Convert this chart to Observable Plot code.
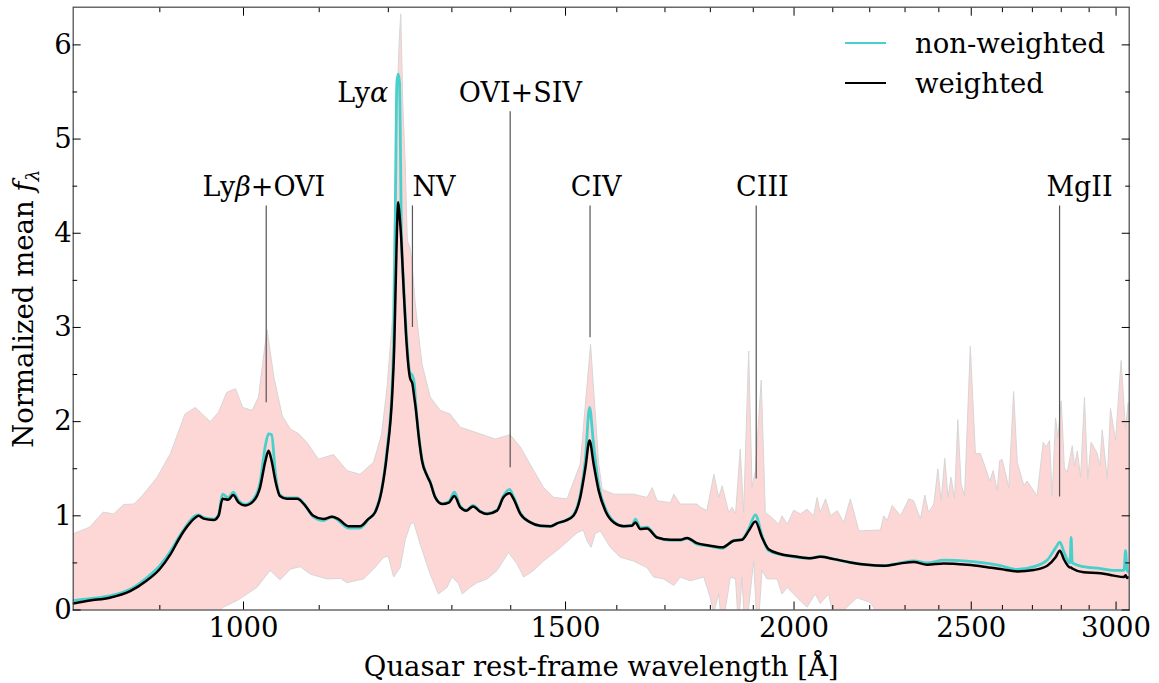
<!DOCTYPE html>
<html><head><meta charset="utf-8">
<script src="https://cdn.jsdelivr.net/npm/d3@7"></script>
<script src="https://cdn.jsdelivr.net/npm/@observablehq/plot@0.6"></script>
<style>
html,body{margin:0;padding:0;background:#fff;}
#wrap{position:relative;width:1159px;height:683px;font-family:"DejaVu Serif",serif;}
#legend{position:absolute;left:845px;top:23px;font-size:27.5px;color:#000;font-family:"DejaVu Serif",serif;}
.row{display:flex;align-items:center;height:40px;white-space:nowrap;}
.sw{width:41px;height:0;border-top:2.5px solid;margin-right:29px;}
</style></head><body><div id="wrap"><div id="legend"></div></div>
<script>
// ---- data ----
const wavelength = [807,824,845,867,885,900,912,923,931,941,
945,951,963,969,974,981,987,994,1002,1013,
1021,1028,1032,1036,1041,1047,1056,1070,1079,1092,
1106,1118,1127,1141,1158,1170,1180,1190,1198,1206,
1209,1211,1213,1215,1217,1220,1223,1227,1233,1237,
1240,1242,1247,1252,1260,1265,1273,1284,1295,1304,
1314,1324,1335,1347,1359,1376,1387,1398,1405,1417,
1435,1453,1472,1484,1500,1515,1528,1538,1546,1554,
1564,1577,1594,1614,1631,1638,1648,1662,1683,1712,
1733,1748,1770,1796,1827,1854,1873,1889,1905,1921,
1937,1966,2008,2042,2067,2103,2147,2193,2239,2287,
2325,2365,2415,2487,2540,2594,2649,2705,2751,2780,
2795,2809,2826,2831,2835,2839,2880,2942,2991,3030,
3036,3042,3050];
const weighted = [0.07,0.10,0.13,0.20,0.31,0.435,0.59,0.77,0.88,0.98,
1.00,0.97,0.955,1.00,1.18,1.17,1.22,1.14,1.11,1.16,
1.30,1.585,1.69,1.585,1.37,1.21,1.18,1.18,1.125,1.00,
0.965,0.99,0.965,0.89,0.89,0.965,1.035,1.27,1.66,2.3,
2.8,3.4,4.0,4.33,4.2,3.9,3.46,2.93,2.47,2.40,
2.25,2.15,1.83,1.585,1.425,1.355,1.195,1.125,1.14,1.21,
1.09,1.055,1.10,1.045,1.02,1.055,1.195,1.24,1.18,1.02,
0.93,0.895,0.89,0.92,0.95,1.0,1.195,1.51,1.80,1.55,
1.265,1.055,0.93,0.89,0.895,0.93,0.86,0.865,0.77,0.745,
0.745,0.765,0.71,0.685,0.665,0.735,0.745,0.84,0.94,0.77,
0.645,0.595,0.565,0.55,0.565,0.54,0.505,0.48,0.47,0.495,
0.51,0.48,0.495,0.48,0.46,0.435,0.41,0.425,0.47,0.56,
0.63,0.54,0.46,0.45,0.45,0.44,0.40,0.39,0.365,0.35,
0.37,0.34,0.35];
const nonWeighted = [0.10,0.12,0.15,0.22,0.34,0.47,0.62,0.79,0.90,1.00,
1.01,0.98,0.965,1.01,1.23,1.19,1.25,1.16,1.12,1.18,
1.35,1.75,1.87,1.86,1.45,1.22,1.19,1.19,1.13,0.99,
0.95,0.99,0.95,0.87,0.87,0.96,1.04,1.28,1.70,2.4,
3.2,4.5,5.6,5.69,5.6,4.0,3.5,3.0,2.52,2.49,
2.40,2.2,1.85,1.6,1.43,1.36,1.20,1.13,1.15,1.25,
1.10,1.06,1.11,1.05,1.025,1.06,1.21,1.28,1.20,1.03,
0.93,0.89,0.885,0.92,0.95,1.01,1.22,1.6,2.15,1.75,
1.32,1.08,0.94,0.89,0.90,0.965,0.87,0.88,0.77,0.74,
0.74,0.76,0.70,0.68,0.655,0.74,0.75,0.86,1.01,0.79,
0.63,0.59,0.56,0.55,0.57,0.54,0.505,0.48,0.47,0.50,
0.52,0.50,0.53,0.52,0.50,0.47,0.43,0.46,0.53,0.66,
0.72,0.62,0.51,0.50,0.77,0.50,0.46,0.44,0.42,0.42,
0.63,0.42,0.40];

const bandHiWave = [807,824,838,849,860,871,880,897,912,929,
941,959,969,979,990,999,1011,1019,1030,1039,
1050,1061,1072,1083,1099,1120,1139,1158,1178,1190,
1198,1206,1213,1217,1219,1222,1226,1229,1233,1236,
1241,1247,1252,1265,1281,1297,1314,1347,1373,1399,
1417,1441,1459,1478,1503,1528,1548,1564,1571,1594,
1634,1662,1673,1683,1712,1719,1733,1770,1778,1792,
1808,1819,1827,1842,1850,1858,1869,1877,1889,1897,
1905,1919,1929,1945,1962,1970,1983,1999,2016,2033,
2050,2059,2067,2081,2094,2112,2129,2147,2170,2230,
2239,2249,2263,2287,2311,2325,2345,2358,2369,2385,
2397,2407,2418,2428,2437,2448,2458,2468,2479,2497,
2513,2529,2545,2559,2570,2583,2591,2599,2621,2637,
2649,2671,2682,2716,2737,2748,2759,2768,2780,2788,
2800,2811,2821,2839,2847,2857,2869,2883,2895,2907,
2929,2939,2948,2967,2979,2998,3019,3036,3046,3050];
const bandHi = [0.81,0.88,1.04,1.02,1.12,1.125,1.21,1.41,1.66,2.08,
2.15,2.00,2.10,2.31,2.35,2.15,2.12,2.26,2.98,2.47,
2.06,1.92,1.87,1.78,1.60,1.65,1.48,1.44,1.57,1.87,
2.36,3.07,5.41,6.11,6.33,5.41,4.70,3.92,3.85,3.71,
3.28,2.90,2.61,2.26,2.12,2.08,1.94,1.87,1.815,1.86,
1.73,1.48,1.30,1.195,1.18,1.55,2.82,1.55,1.28,1.23,
1.23,1.195,1.30,1.16,1.14,1.23,1.125,1.125,1.09,1.055,
1.44,1.195,1.32,1.035,1.09,1.02,1.71,1.035,2.75,1.30,
1.48,2.44,1.035,0.98,0.91,1.0,0.91,1.06,1.02,1.07,
1.0,1.195,1.035,1.18,1.0,1.055,0.93,1.18,0.84,0.85,
1.0,0.95,1.11,1.0,1.18,1.16,0.965,1.22,1.035,1.125,
1.50,1.16,1.61,1.195,1.41,1.18,2.02,1.34,1.21,2.80,
1.66,1.66,1.51,1.37,1.48,1.265,1.585,1.60,1.30,2.32,
1.57,1.32,1.37,1.21,1.78,1.73,1.80,1.21,2.04,1.83,
2.22,1.51,1.46,1.745,1.53,1.69,1.41,2.26,1.39,1.78,
1.67,1.53,1.91,1.39,2.14,1.80,2.65,1.92,2.20,2.0];
const bandLoWave = [807,947,965,975,992,1017,1034,1047,1061,1074,
1088,1111,1130,1139,1163,1178,1193,1200,1208,1218,
1226,1234,1239,1249,1265,1278,1292,1300,1311,1317,
1330,1342,1359,1376,1396,1411,1423,1441,1459,1490,
1522,1534,1541,1549,1557,1567,1587,1607,1634,1662,
1676,1697,1719,1733,1755,1785,1800,1808,1811,1819,
1827,1846,1858,1865,1873,1881,1901,1910,1921,1933,
1958,1970,1983,2008,2033,2054,2067,2089,2103,2165,
2202,2230,2300,3050];
const bandLo = [-0.5,-0.3,-0.05,0.03,0.10,0.24,0.42,0.32,0.435,0.46,
0.38,0.33,0.335,0.29,0.33,0.435,0.56,0.57,0.35,0.45,
0.75,0.91,0.93,0.70,0.38,0.17,0.24,0.35,0.28,0.17,
0.24,0.29,0.33,0.42,0.61,0.49,0.35,0.42,0.52,0.66,
0.82,0.85,0.735,0.665,0.81,0.84,0.665,0.56,0.52,0.45,
0.35,0.33,0.26,0.35,0.31,0.35,0.13,-0.05,0.03,0.17,
-0.2,0.35,0.33,-0.2,0.35,-0.3,0.52,-0.3,0.42,0.33,
0.33,0.17,0.24,0.13,0.03,0.17,0.07,0.17,-0.1,0.13,
0.08,-0.1,-0.3,-0.3];

const markerWave = [1029,1237,1399,1547,1907,2794];
const markerTop = [4.29,4.29,5.29,4.29,4.29,4.29];
const markerBottom = [2.2,3.0,1.51,2.89,1.39,1.2];
const labelText = ["Lyα","Lyβ+OVI","NV","OVI+SIV","CIV","CIII","MgII"];
const labelWave = [1200,1026,1237,1417,1559,1922,2865];
const labelValue = [5.49,4.49,4.49,5.49,4.49,4.49,4.49];
const labelAnchor = ["end","middle","start","middle","middle","middle","middle"];

const xDomain = [807, 3050];
const yDomain = [0, 6.4];
const xMajorTicks = [1000,1500,2000,2500,3000];
const xMinorTicks = [900,1100,1200,1300,1400,1600,1700,1800,1900,2100,2200,2300,2400,2600,2700,2800,2900];
const yMajorTicks = [0,1,2,3,4,5,6];
const yMinorTicks = [0.5,1.5,2.5,3.5,4.5,5.5];
const seriesNames = ["non-weighted","weighted"];
const seriesColors = ["#48d1cc","#000000"];
const xTitle = "Quasar rest-frame wavelength [Å]";
const yTitle = "Normalized mean f_λ";

// ---- build ----
const spec = wavelength.map((w,i)=>({w, weighted: weighted[i], nonWeighted: nonWeighted[i]}));
const bandPoly = [
  ...bandHiWave.map((w,i)=>({w, f: bandHi[i]})),
  ...bandLoWave.map((w,i)=>({w, f: bandLo[i]})).reverse()
];
const markers = markerWave.map((w,i)=>({w, y1: markerBottom[i], y2: markerTop[i]}));
const labels = labelText.map((t,i)=>({t, w: labelWave[i], v: labelValue[i], a: labelAnchor[i]}));

const W = 1159, H = 683;
const FS = 27.5;
const tickStyle = {stroke: "black", strokeWidth: 1};
const noText = () => "";

const labelMarks = ["start","middle","end"].map(a =>
  Plot.text(labels, {filter: d => d.a === a, x: "w", y: "v", text: "t", textAnchor: a,
    lineAnchor: "middle", fontSize: FS - 0.5, fill: "black"}));

const chart = Plot.plot({
  width: W, height: H,
  marginLeft: 72.7, marginRight: W - 1128.7, marginTop: 6.7, marginBottom: H - 609.5,
  style: {fontFamily: "DejaVu Serif", background: "white", color: "black"},
  x: {type: "log", domain: xDomain},
  y: {domain: yDomain},
  marks: [
    Plot.line(bandPoly, {x: "w", y: "f", fill: "#fdd6d6", stroke: "#d6d6d6", strokeWidth: 1, clip: true}),
    Plot.ruleX(markers, {x: "w", y1: "y1", y2: "y2", stroke: "#555", strokeWidth: 1.2}),
    Plot.line(spec, {x: "w", y: "nonWeighted", stroke: seriesColors[0], strokeWidth: 2.8, curve: "monotone-x", clip: true}),
    Plot.line(spec, {x: "w", y: "weighted", stroke: seriesColors[1], strokeWidth: 2.5, curve: "monotone-x", clip: true}),
    ...labelMarks,
    Plot.frame({stroke: "#444", strokeWidth: 1.2}),
    Plot.axisX(xMajorTicks, {anchor: "bottom", tickSize: -8, tickPadding: 15, fontSize: FS, tickFormat: d => String(d), label: null, ...tickStyle}),
    Plot.axisX(xMinorTicks, {anchor: "bottom", tickSize: -4.5, tickFormat: noText, label: null, ...tickStyle}),
    Plot.axisX(xMajorTicks, {anchor: "top", tickSize: -8, tickFormat: noText, label: null, ...tickStyle}),
    Plot.axisX(xMinorTicks, {anchor: "top", tickSize: -4.5, tickFormat: noText, label: null, ...tickStyle}),
    Plot.axisY(yMajorTicks, {anchor: "left", tickSize: -8, tickPadding: 9.5, fontSize: FS, tickFormat: d => String(d), label: null, ...tickStyle}),
    Plot.axisY(yMinorTicks, {anchor: "left", tickSize: -4.5, tickFormat: noText, label: null, ...tickStyle}),
    Plot.axisY(yMajorTicks, {anchor: "right", tickSize: -8, tickFormat: noText, label: null, ...tickStyle}),
    Plot.axisY(yMinorTicks, {anchor: "right", tickSize: -4.5, tickFormat: noText, label: null, ...tickStyle}),
    Plot.text([xTitle], {text: d => d, frameAnchor: "bottom", dy: 57, fontSize: FS, textAnchor: "middle", lineAnchor: "middle", fill: "black"}),
    Plot.text([yTitle], {text: d => d, frameAnchor: "left", dx: -49, rotate: -90, fontSize: FS, textAnchor: "middle", lineAnchor: "middle", fill: "black"})
  ]
});

// italic Greek letters / math symbols
d3.select(chart).selectAll("text").each(function() {
  const t = this.textContent;
  const s = d3.select(this);
  if (t === "Lyα") {
    s.text(null); s.append("tspan").text("Ly"); s.append("tspan").attr("font-style","italic").text("α");
  } else if (t === "Lyβ+OVI") {
    s.text(null); s.append("tspan").text("Ly"); s.append("tspan").attr("font-style","italic").text("β"); s.append("tspan").text("+OVI");
  } else if (t === yTitle) {
    s.text(null);
    s.append("tspan").text("Normalized mean ");
    s.append("tspan").attr("font-style","italic").text("f");
    s.append("tspan").attr("font-style","italic").attr("font-size","19px").attr("dy","6").text("λ");
  }
});

const wrap = document.getElementById("wrap");
wrap.insertBefore(chart, wrap.firstChild);

const legend = d3.select("#legend");
seriesNames.forEach((n,i) => {
  const row = legend.append("div").attr("class","row");
  row.append("span").attr("class","sw").style("border-top-color", seriesColors[i]);
  row.append("span").text(n);
});
</script></body></html>
